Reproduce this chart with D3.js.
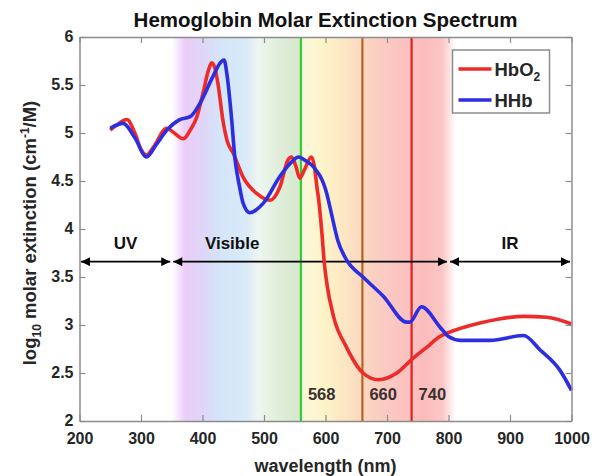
<!DOCTYPE html>
<html>
<head>
<meta charset="utf-8">
<script src="https://cdn.jsdelivr.net/npm/d3@7"></script>
<style>
body { margin: 0; background: #fff; }
text { font-family: "Liberation Sans", Arial, sans-serif; font-weight: bold; }
</style>
</head>
<body>
<div class="chart"></div>
<script>
// values (nm, log10 molar extinction)
const hbo2Wl  = [250, 260, 277, 290, 300, 309, 320, 342, 352, 369, 380, 391, 401, 410, 415, 420, 425, 433, 440, 450, 466, 488, 510, 526, 539, 545, 552, 558, 566, 577, 582, 586, 589, 594, 598, 602, 613, 634, 661, 686, 716, 740, 765, 786, 800, 851, 880, 922, 960, 1000];
const hbo2Val = [5.03, 5.08, 5.14, 5.00, 4.83, 4.77, 4.85, 5.05, 5.01, 4.94, 5.03, 5.17, 5.42, 5.66, 5.73, 5.68, 5.52, 5.14, 4.92, 4.79, 4.54, 4.37, 4.30, 4.44, 4.72, 4.75, 4.65, 4.53, 4.62, 4.75, 4.65, 4.44, 4.30, 3.97, 3.65, 3.44, 3.09, 2.77, 2.50, 2.43, 2.50, 2.64, 2.77, 2.88, 2.92, 3.02, 3.06, 3.09, 3.08, 3.01];

const hhbWl  = [250, 271, 290, 309, 325, 342, 363, 380, 396, 417, 430, 435, 440, 447, 453, 460, 466, 477, 499, 526, 545, 556, 568, 580, 602, 610, 620, 634, 661, 694, 732, 737, 756, 786, 800, 819, 868, 922, 949, 981, 1000];
const hhbVal = [5.05, 5.10, 4.95, 4.75, 4.88, 5.03, 5.14, 5.17, 5.31, 5.59, 5.74, 5.76, 5.60, 5.17, 4.72, 4.45, 4.27, 4.17, 4.27, 4.55, 4.70, 4.75, 4.71, 4.65, 4.37, 4.15, 3.88, 3.68, 3.50, 3.30, 3.03, 3.03, 3.19, 2.98, 2.88, 2.84, 2.84, 2.89, 2.74, 2.53, 2.32];

const markerWl = [560, 660, 740];
const markerLabels = ["568", "660", "740"];

const regionNames = ["UV", "Visible", "IR"];
const regionBounds = [200, 350, 800, 1000];
const regionLevel = 3.66;

const xTicks = [200, 300, 400, 500, 600, 700, 800, 900, 1000];
const yTicks = [2, 2.5, 3, 3.5, 4, 4.5, 5, 5.5, 6];

// spectrum band colours (nm, colour)
const bandWl  = [350, 372, 400, 430, 470, 492, 520, 556, 566, 600, 640, 665, 700, 760, 790, 812];
const bandCol = ["#ffffff", "#ecccf7", "#dfd6f8", "#d4e5f9", "#d9eaf8", "#eef6f0", "#e2efdc", "#d6e8cd", "#fbf8d8", "#fdf3c8", "#fbe2c2", "#fbd5c2", "#fbc9c3", "#fbbcbc", "#fcc6c6", "#ffffff"];

const lineColors = { hbo2: "#ee2b2b", hhb: "#2c2ee0" };
const markerColors = ["#33cc33", "#b5651d", "#e02020"];

const margin = {top: 37, left: 79.5, right: 28.5, bottom: 55};
const width = 600 - margin.left - margin.right,
    height = 476 - margin.top - margin.bottom;

const svg = d3.select(".chart")
    .append("svg")
    .attr("width", 600)
    .attr("height", 476);

const gr = svg.append("g")
    .attr("transform", "translate(" + margin.left + "," + margin.top + ")");

const xScale = d3.scaleLinear().domain([200, 1000]).range([0, width]);
const yScale = d3.scaleLinear().domain([2, 6]).range([height, 0]);

// spectrum background
const defs = svg.append("defs");
const grad = defs.append("linearGradient")
    .attr("id", "spec")
    .attr("gradientUnits", "userSpaceOnUse")
    .attr("x1", xScale(bandWl[0])).attr("x2", xScale(bandWl[bandWl.length - 1]))
    .attr("y1", 0).attr("y2", 0);
grad.selectAll("stop")
    .data(bandWl)
    .join("stop")
    .attr("offset", d => (d - bandWl[0]) / (bandWl[bandWl.length - 1] - bandWl[0]))
    .attr("stop-color", (d, i) => bandCol[i]);

gr.append("rect")
    .attr("x", xScale(bandWl[0]))
    .attr("width", xScale(bandWl[bandWl.length - 1]) - xScale(bandWl[0]))
    .attr("y", 0)
    .attr("height", height)
    .attr("fill", "url(#spec)");

// arrow heads
["start", "end"].forEach(k => {
    defs.append("marker")
        .attr("id", "arr-" + k)
        .attr("markerUnits", "userSpaceOnUse")
        .attr("viewBox", "0 0 10 10")
        .attr("refX", k == "end" ? 10 : 0)
        .attr("refY", 5)
        .attr("markerWidth", 10)
        .attr("markerHeight", 9)
        .attr("orient", "auto")
        .append("path")
        .attr("d", k == "end" ? "M0,0L10,5L0,10Z" : "M10,0L0,5L10,10Z")
        .attr("fill", "#000");
});

// wavelength marker lines
gr.selectAll(".marker")
    .data(markerWl)
    .join("line")
    .attr("class", "marker")
    .attr("x1", d => xScale(d)).attr("x2", d => xScale(d))
    .attr("y1", 0).attr("y2", height)
    .attr("stroke", (d, i) => markerColors[i])
    .attr("stroke-width", 2.2);

gr.selectAll(".mlabel")
    .data(markerWl)
    .join("text")
    .attr("class", "mlabel")
    .attr("x", d => xScale(d) + 7)
    .attr("y", yScale(2.22))
    .attr("font-size", 16.5)
    .attr("fill", "#3a3030")
    .text((d, i) => markerLabels[i]);

// region arrows
const regions = regionNames.map((n, i) => ({name: n, a: regionBounds[i], b: regionBounds[i + 1]}));
gr.selectAll(".region")
    .data(regions)
    .join("line")
    .attr("class", "region")
    .attr("x1", d => xScale(d.a) + 1.5)
    .attr("x2", d => xScale(d.b) - 1.5)
    .attr("y1", yScale(regionLevel)).attr("y2", yScale(regionLevel))
    .attr("stroke", "#000")
    .attr("stroke-width", 1.8)
    .attr("marker-start", "url(#arr-start)")
    .attr("marker-end", "url(#arr-end)");

gr.selectAll(".rlabel")
    .data(regions)
    .join("text")
    .attr("class", "rlabel")
    .attr("x", d => xScale((d.a + d.b) / 2) + (d.name == "Visible" ? -78 : 0))
    .attr("y", yScale(regionLevel) - 13)
    .attr("text-anchor", "middle")
    .attr("font-size", 17)
    .attr("fill", "#111")
    .text(d => d.name);

// curves
const line = d3.line()
    .x(d => xScale(d[0]))
    .y(d => yScale(d[1]))
    .curve(d3.curveMonotoneX);

gr.append("path")
    .datum(hbo2Wl.map((w, i) => [w, hbo2Val[i]]))
    .attr("d", line)
    .attr("fill", "none")
    .attr("stroke", lineColors.hbo2)
    .attr("stroke-width", 3.6)
    .attr("stroke-linejoin", "round");

gr.append("path")
    .datum(hhbWl.map((w, i) => [w, hhbVal[i]]))
    .attr("d", line)
    .attr("fill", "none")
    .attr("stroke", lineColors.hhb)
    .attr("stroke-width", 3.6)
    .attr("stroke-linejoin", "round");

// axes (box with inward ticks)
const axisCol = "#8c8c8c";
const xAxis = d3.axisBottom(xScale).tickValues(xTicks).tickSizeInner(-6).tickSizeOuter(0).tickPadding(12)
    .tickFormat(d3.format("d"));
const yAxis = d3.axisLeft(yScale).tickValues(yTicks).tickSizeInner(-6).tickSizeOuter(0).tickPadding(6)
    .tickFormat(d3.format("~g"));

const xAxGr = gr.append("g").attr("class", "axis x-axis")
    .attr("transform", "translate(0," + height + ")")
    .call(xAxis);
const yAxGr = gr.append("g").attr("class", "axis y-axis").call(yAxis);
gr.append("g").attr("transform", "translate(0,0)")
    .call(d3.axisTop(xScale).tickValues(xTicks).tickSizeInner(-6).tickSizeOuter(0).tickFormat(""));
gr.append("g").attr("transform", "translate(" + width + ",0)")
    .call(d3.axisRight(yScale).tickValues(yTicks).tickSizeInner(-6).tickSizeOuter(0).tickFormat(""));

gr.selectAll(".domain").attr("stroke", axisCol).attr("stroke-width", 1.5);
gr.selectAll(".tick line").attr("stroke", axisCol).attr("stroke-width", 1.2);
gr.selectAll(".tick text")
    .attr("font-size", 16)
    .attr("font-weight", "bold")
    .attr("font-family", "'Liberation Sans', Arial, sans-serif")
    .attr("fill", "#262626");
yAxGr.selectAll(".tick text").attr("dy", "0.3em");

// legend
const legend = gr.append("g").attr("transform", "translate(" + (width - 119) + ",13)");
legend.append("rect")
    .attr("width", 97).attr("height", 63)
    .attr("fill", "#fff")
    .attr("stroke", "#8c8c8c")
    .attr("stroke-width", 1.5);
const legItems = [{k: "hbo2", base: "HbO", sub: "2"}, {k: "hhb", base: "HHb", sub: ""}];
legItems.forEach((d, i) => {
    const y = 19 + i * 31;
    legend.append("line")
        .attr("x1", 6).attr("x2", 39)
        .attr("y1", y).attr("y2", y)
        .attr("stroke", lineColors[d.k])
        .attr("stroke-width", 3.6);
    const t = legend.append("text")
        .attr("x", 42).attr("y", y + 6.5)
        .attr("font-size", 18.5)
        .attr("fill", "#262626")
        .text(d.base);
    if (d.sub) t.append("tspan").attr("font-size", 12).attr("dy", 5).text(d.sub);
});

// title and axis labels
svg.append("text")
    .attr("x", margin.left + width / 2).attr("y", 27)
    .attr("text-anchor", "middle")
    .attr("font-size", 20.5)
    .attr("fill", "#111")
    .text("Hemoglobin Molar Extinction Spectrum");

svg.append("text")
    .attr("x", margin.left + width / 2).attr("y", 472)
    .attr("text-anchor", "middle")
    .attr("font-size", 18)
    .attr("fill", "#262626")
    .text("wavelength (nm)");

const yl = svg.append("text")
    .attr("transform", "translate(36," + (margin.top + height / 2 + 4) + ") rotate(-90)")
    .attr("text-anchor", "middle")
    .attr("font-size", 18.5)
    .attr("fill", "#262626");
yl.append("tspan").text("log");
yl.append("tspan").attr("font-size", 12).attr("dy", 5).text("10");
yl.append("tspan").attr("dy", -5).text(" molar extinction (cm");
yl.append("tspan").attr("font-size", 12).attr("dy", -7).text("-1");
yl.append("tspan").attr("dy", 7).text("/M)");
</script>
</body>
</html>
